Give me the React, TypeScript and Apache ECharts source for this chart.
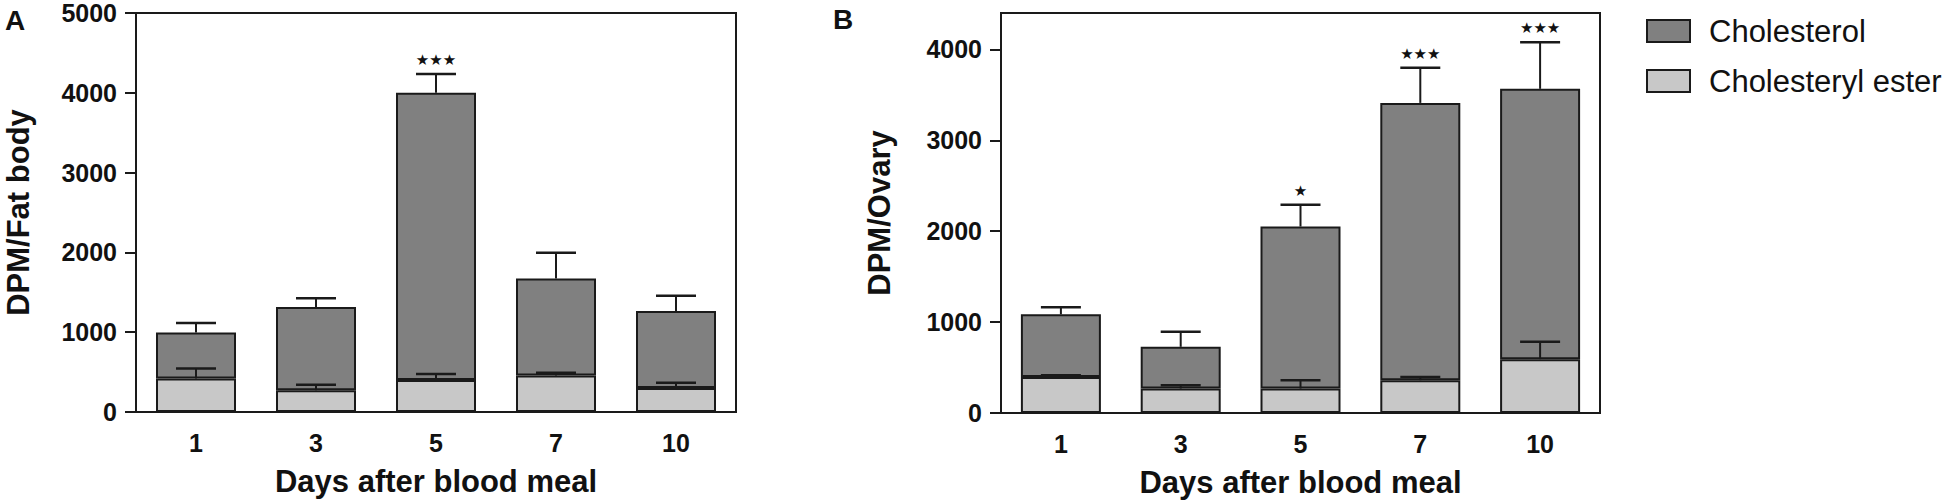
import React, { useEffect, useRef } from "react";
import * as echarts from "echarts";

// ---- data ----
const days = ["1", "3", "5", "7", "10"];
const tickValuesA = [0, 1000, 2000, 3000, 4000, 5000];
const tickValuesB = [0, 1000, 2000, 3000, 4000];

// Panel A: fat body
const fatEster = [419, 271, 401, 458, 301];
const fatEsterErr = [126, 72, 75, 35, 67];
const fatChol = [576, 1045, 3599, 1215, 966];
const fatCholErr = [120, 109, 236, 324, 190];
const fatStars = ["", "", "★★★", "", ""];

// Panel B: ovary
const ovEster = [397, 269, 269, 361, 592];
const ovEsterErr = [19, 36, 92, 36, 191];
const ovChol = [688, 459, 1782, 3050, 2974];
const ovCholErr = [77, 165, 239, 386, 513];
const ovStars = ["", "", "★", "★★★", "★★★"];

const FONT = "'Liberation Sans', Arial, Helvetica, sans-serif";
const INK = "#1a1a1a";
const DARK = "#808080";
const LIGHT = "#c8c8c8";

function errSeries(idx: number, bases: number[], errs: number[], stars: string[] | null) {
  return {
    type: "custom",
    xAxisIndex: idx,
    yAxisIndex: idx,
    z: 10,
    silent: true,
    clip: false,
    encode: { x: 0, y: [1, 2] },
    data: bases.map((b, i) => [i, b, b + errs[i]]),
    renderItem: (params: any, api: any) => {
      const x = api.value(0);
      const p0 = api.coord([x, api.value(1)]);
      const p1 = api.coord([x, api.value(2)]);
      const half = 20;
      const children: any[] = [
        { type: "line", shape: { x1: p0[0], y1: p0[1], x2: p1[0], y2: p1[1] }, style: { stroke: INK, lineWidth: 2 } },
        { type: "line", shape: { x1: p1[0] - half, y1: p1[1], x2: p1[0] + half, y2: p1[1] }, style: { stroke: INK, lineWidth: 2.5 } },
      ];
      const s = stars ? stars[params.dataIndex] : "";
      if (s) {
        children.push({
          type: "text",
          x: p1[0],
          y: p1[1] - 14,
          style: { text: s, fill: "#111", fontSize: 15, fontFamily: "'DejaVu Sans', sans-serif", align: "center", verticalAlign: "middle" },
        });
      }
      return { type: "group", children };
    },
  };
}

function barSeries(idx: number, name: string, data: number[], color: string) {
  return {
    type: "bar",
    name,
    xAxisIndex: idx,
    yAxisIndex: idx,
    stack: "s" + idx,
    barWidth: 80,
    data,
    itemStyle: { color, borderColor: INK, borderWidth: 2 },
  };
}

export default function App() {
  const ref = useRef<HTMLDivElement>(null);
  useEffect(() => {
    document.body.style.margin = "0";
    if (!ref.current) return;
    const chart = echarts.init(ref.current, null, { renderer: "svg" });
    const axisLine = { show: true, lineStyle: { color: INK, width: 2 } };
    const labelStyle = { fontSize: 25, fontWeight: "bold", color: "#111", fontFamily: FONT };
    const nameStyle = { fontSize: 31, fontWeight: "bold", color: "#111", fontFamily: FONT };
    const plain = (v: number) => (v % 1000 === 0 ? String(v) : "");
    const xAxisBase = (gi: number) => ({
      type: "category",
      gridIndex: gi,
      data: days,
      axisLine,
      axisTick: { show: false },
      axisLabel: { ...labelStyle, margin: 18 },
      name: "Days after blood meal",
      nameLocation: "middle",
      nameGap: 54,
      nameTextStyle: nameStyle,
      splitLine: { show: false },
    });
    const option: any = {
      animation: false,
      backgroundColor: "#ffffff",
      textStyle: { fontFamily: FONT },
      grid: [
        { left: 136, top: 13, width: 600, height: 399, show: true, borderColor: INK, borderWidth: 2, containLabel: false, outerBoundsMode: "none" },
        { left: 1001, top: 13, width: 599, height: 400, show: true, borderColor: INK, borderWidth: 2, containLabel: false, outerBoundsMode: "none" },
      ],
      xAxis: [xAxisBase(0), xAxisBase(1)],
      yAxis: [
        {
          type: "value",
          gridIndex: 0,
          min: 0,
          max: 5000,
          interval: 1000,
          axisLine,
          axisTick: { show: true, length: 11, lineStyle: { color: INK, width: 2 }, customValues: tickValuesA },
          axisLabel: { ...labelStyle, margin: 19, customValues: tickValuesA, formatter: plain },
          splitLine: { show: false },
          name: "DPM/Fat body",
          nameLocation: "middle",
          nameGap: 102,
          nameTextStyle: nameStyle,
        },
        {
          type: "value",
          gridIndex: 1,
          min: 0,
          max: 4400,
          interval: 1000,
          axisLine,
          axisTick: { show: true, length: 11, lineStyle: { color: INK, width: 2 }, customValues: tickValuesB },
          axisLabel: { ...labelStyle, margin: 19, customValues: tickValuesB, formatter: plain },
          splitLine: { show: false },
          name: "DPM/Ovary",
          nameLocation: "middle",
          nameGap: 106,
          nameTextStyle: nameStyle,
        },
      ],
      legend: {
        orient: "vertical",
        left: 1641,
        top: 8,
        itemWidth: 43,
        itemHeight: 22,
        itemGap: 14,
        icon: "rect",
        data: ["Cholesterol", "Cholesteryl ester"],
        itemStyle: { borderColor: INK, borderWidth: 2 },
        textStyle: { fontSize: 31, color: "#111", fontFamily: FONT, lineHeight: 36, padding: [0, 0, 0, 14] },
        selectedMode: false,
      },
      graphic: [
        { type: "text", left: 5, top: 6, style: { text: "A", fontSize: 28, fontWeight: "bold", fill: "#111", fontFamily: FONT } },
        { type: "text", left: 833, top: 5, style: { text: "B", fontSize: 28, fontWeight: "bold", fill: "#111", fontFamily: FONT } },
      ],
      series: [
        barSeries(0, "Cholesteryl ester", fatEster, LIGHT),
        barSeries(0, "Cholesterol", fatChol, DARK),
        errSeries(0, fatEster, fatEsterErr, null),
        errSeries(0, fatEster.map((e, i) => e + fatChol[i]), fatCholErr, fatStars),
        barSeries(1, "Cholesteryl ester", ovEster, LIGHT),
        barSeries(1, "Cholesterol", ovChol, DARK),
        errSeries(1, ovEster, ovEsterErr, null),
        errSeries(1, ovEster.map((e, i) => e + ovChol[i]), ovCholErr, ovStars),
      ],
    };
    chart.setOption(option);
    return () => chart.dispose();
  }, []);
  return <div ref={ref} style={{ width: 1954, height: 504 }} />;
}
